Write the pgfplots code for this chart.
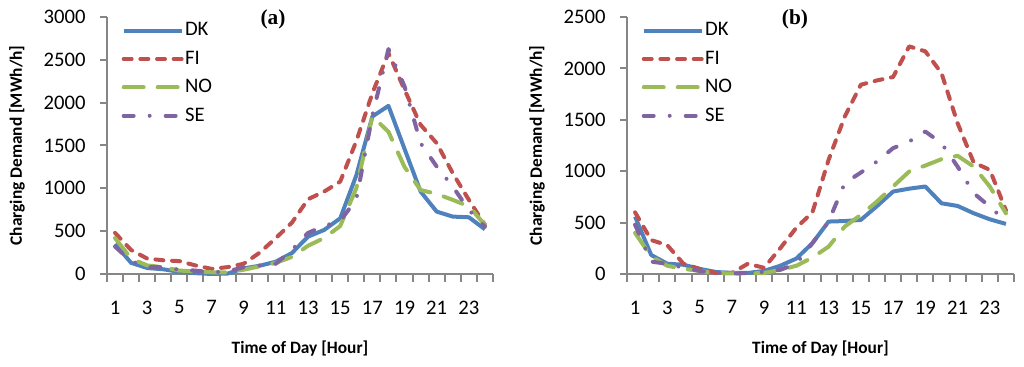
\documentclass[border=0pt]{standalone}
\usepackage{pgfplots}
\pgfplotsset{compat=1.18}
\usepackage{fontspec}
\setmainfont{Carlito}
\newfontfamily\timesfont{Liberation Serif}
\definecolor{dkc}{HTML}{4F81BD}
\definecolor{fic}{HTML}{C0504D}
\definecolor{noc}{HTML}{9BBB59}
\definecolor{sec}{HTML}{8064A2}
\definecolor{axc}{HTML}{868686}
\newcommand{\tickfont}{\fontsize{15.5}{18}\selectfont}
\pgfplotsset{
 rc/.style={
  scale only axis, height=192.75pt,
  axis x line=bottom, axis y line=left,
  axis line style={draw=axc, line width=1.5pt, -},
  xmin=0.5, xmax=24.5, ymin=0,
  xtick={1,3,...,23}, minor xtick={0.5,1.5,...,24.5},
  xticklabels={1,3,5,7,9,11,13,15,17,19,21,23},
  major x tick style={draw=none},
  minor x tick style={draw=axc, line width=1.5pt},
  minor tick length=6pt,
  y tick style={draw=axc, line width=1.5pt},
  major tick length=5pt,
  tick align=outside,
  tick label style={font=\tickfont},
  yticklabel style={xshift=-7.5pt},
  xticklabel style={yshift=-11.5pt},
  every axis y label/.style={at={(rel axis cs:0,0.5)}, xshift=-67.5pt, rotate=90, anchor=center},
  every axis x label/.style={at={(rel axis cs:0.5,0)}, yshift=-56.25pt, anchor=center},
  label style={font=\bfseries\fontsize{13}{15}\selectfont},
  xlabel={Time of Day [Hour]},
  ylabel={Charging Demand [MWh/h]},
  clip=false,
  legend style={draw=none, fill=none, at={(0.027,1.0)}, anchor=north west,
    font=\fontsize{15.5}{18}\selectfont, row sep=5.3pt,
    nodes={inner sep=1pt, text height=11pt, text depth=3pt},
    cells={anchor=west}},
  legend image code/.code={\draw[#1] (0pt,0pt) -- (43.5pt,0pt);},
  every axis plot/.append style={line width=3pt, line join=round},
 },
 dk/.style={draw=dkc},
 fi/.style={draw=fic, line cap=round, dash pattern=on 6pt off 6.5pt},
 no/.style={draw=noc, line cap=round, dash pattern=on 15pt off 10.5pt},
 se/.style={draw=sec, line cap=round, dash pattern=on 7.5pt off 12pt on 0pt off 12pt},
}
\begin{document}
\begin{tikzpicture}
\useasboundingbox (-80.25pt,-69.75pt) rectangle (687.75pt,205.5pt);
\begin{axis}[rc, width=289.5pt, ymax=3000, ytick={0,500,...,3000},
  yticklabels={0,500,1000,1500,2000,2500,3000}]
\addplot[dk] coordinates {(1,350)(2,130)(3,70)(4,55)(5,25)(6,10)(7,0)(8,5)(9,65)(10,97)(11,144)(12,245)(13,436)(14,514)(15,650)(16,1150)(17,1839)(18,1963)(19,1460)(20,962)(21,728)(22,670)(23,662)(24,522)};
\addlegendentry{DK}
\addplot[fi] coordinates {(1,480)(2,280)(3,180)(4,160)(5,150)(6,100)(7,60)(8,80)(9,120)(10,250)(11,420)(12,600)(13,873)(14,962)(15,1079)(16,1550)(17,2110)(18,2579)(19,2150)(20,1741)(21,1527)(22,1176)(23,865)(24,573)};
\addlegendentry{FI}
\addplot[no] coordinates {(1,420)(2,180)(3,100)(4,80)(5,40)(6,30)(7,20)(8,20)(9,50)(10,90)(11,130)(12,200)(13,330)(14,420)(15,560)(16,1000)(17,1840)(18,1660)(19,1250)(20,980)(21,935)(22,865)(23,790)(24,573)};
\addlegendentry{NO}
\addplot[se] coordinates {(1,320)(2,150)(3,80)(4,80)(5,50)(6,40)(7,20)(8,30)(9,80)(10,100)(11,120)(12,280)(13,480)(14,560)(15,620)(16,870)(17,1850)(18,2626)(19,2190)(20,1527)(21,1254)(22,1020)(23,748)(24,553)};
\addlegendentry{SE}
\node[font=\timesfont\bfseries\fontsize{16}{18}\selectfont] at (axis description cs:0.430,0.99) {(a)};
\end{axis}
\begin{axis}[rc, at={(390pt,0pt)}, width=290.25pt, ymax=2500, ytick={0,500,...,2500},
  yticklabels={0,500,1000,1500,2000,2500}]
\addplot[dk] coordinates {(1,558)(2,185)(3,100)(4,90)(5,50)(6,20)(7,10)(8,10)(9,30)(10,80)(11,150)(12,300)(13,510)(14,515)(15,526)(16,660)(17,802)(18,830)(19,851)(20,688)(21,662)(22,591)(23,532)(24,487)};
\addlegendentry{DK}
\addplot[fi] coordinates {(1,600)(2,330)(3,280)(4,100)(5,50)(6,10)(7,10)(8,100)(9,60)(10,250)(11,450)(12,600)(13,1110)(14,1530)(15,1841)(16,1883)(17,1916)(18,2214)(19,2166)(20,1955)(21,1468)(22,1085)(23,1013)(24,620)};
\addlegendentry{FI}
\addplot[no] coordinates {(1,400)(2,170)(3,80)(4,50)(5,30)(6,10)(7,5)(8,5)(9,10)(10,40)(11,80)(12,160)(13,266)(14,461)(15,575)(16,705)(17,851)(18,997)(19,1055)(20,1117)(21,1150)(22,1045)(23,851)(24,590)};
\addlegendentry{NO}
\addplot[se] coordinates {(1,480)(2,120)(3,100)(4,60)(5,30)(6,10)(7,5)(8,10)(9,20)(10,40)(11,100)(12,300)(13,510)(14,883)(15,987)(16,1094)(17,1224)(18,1289)(19,1386)(20,1273)(21,1045)(22,786)(23,656)(24,510)};
\addlegendentry{SE}
\node[font=\timesfont\bfseries\fontsize{16}{18}\selectfont] at (axis description cs:0.434,0.99) {(b)};
\end{axis}
\end{tikzpicture}
\end{document}
